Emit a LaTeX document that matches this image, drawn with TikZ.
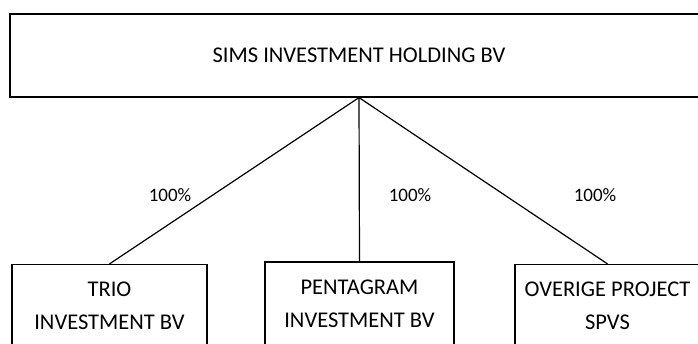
\documentclass[tikz,border=0pt]{standalone}
\usepackage{fontspec}
\setmainfont{Carlito}
\tikzset{
    entity/.style = {draw, line width=1.2pt, align=center, inner sep=0pt,
                     font=\fontsize{22.5}{33}\selectfont},
    share/.style  = {font=\fontsize{19}{22}\selectfont},
    link/.style   = {line width=1.2pt}
}
\begin{document}
\begin{tikzpicture}[x=1pt,y=-1pt]
    \useasboundingbox (0,0) rectangle (698,343);
    \clip (0,0) rectangle (698,343);
    \node[entity, minimum width=698pt, minimum height=83pt] (holding) at (359,55.5) {SIMS INVESTMENT HOLDING BV};
    \node[entity, minimum width=195pt, minimum height=83pt] (trio) at (109.5,306) {TRIO\\INVESTMENT BV};
    \node[entity, minimum width=189pt, minimum height=83pt] (penta) at (359.5,303.5) {PENTAGRAM\\INVESTMENT BV};
    \node[entity, minimum width=185pt, minimum height=83pt] (overige) at (607.5,306) {OVERIGE PROJECT\\SPVS};
    \draw[link] (holding.south) -- (trio.north);
    \draw[link] (holding.south) -- (penta.north);
    \draw[link] (holding.south) -- (overige.north);
    \node[share] (p1) at (170,195) {100\%};
    \node[share] (p2) at (410,195) {100\%};
    \node[share] (p3) at (595,195) {100\%};
\end{tikzpicture}
\end{document}
